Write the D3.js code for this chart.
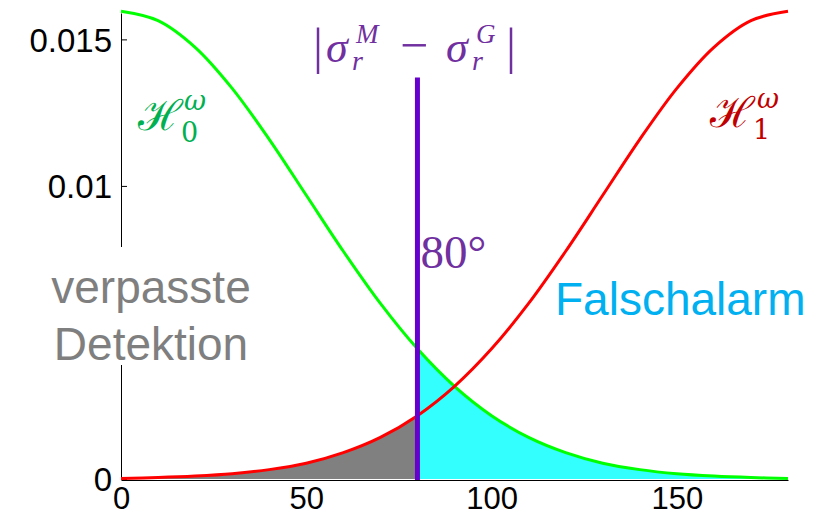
<!DOCTYPE html>
<html>
<head>
<meta charset="utf-8">
<script src="https://cdn.jsdelivr.net/npm/d3@7"></script>
<style>
  body { margin: 0; background: #fff; }
  svg { display: block; }
  .tick text { font-family: "Liberation Sans", Arial, sans-serif; fill: #000; }
</style>
</head>
<body>
<div id="chart"></div>
<script>
// angle samples (degrees)
let angles = [0, 10, 20, 30, 40, 50, 60, 70, 80, 90, 100, 110, 120, 130, 140, 150, 160, 170, 180];
// H0 density (green)
let h0Values = [0.01596, 0.01564, 0.01473, 0.01333, 0.01159, 0.00968, 0.00777, 0.00599, 0.00444, 0.00316,
                0.00216, 0.00142, 0.00090, 0.00054, 0.00032, 0.00018, 0.00010, 0.00005, 0.00002];
// H1 density (red)
let h1Values = [0.00002, 0.00005, 0.00010, 0.00018, 0.00032, 0.00054, 0.00090, 0.00142, 0.00216, 0.00316,
                0.00444, 0.00599, 0.00777, 0.00968, 0.01159, 0.01333, 0.01473, 0.01564, 0.01596];
let threshold = 80;
let thresholdTop = 0.0137;
let xTicks = [0, 50, 100, 150];
let yTicks = [0, 0.01, 0.015];
let yTickLabels = ["0", "0.01", "0.015"];

let width = 827, height = 516;

let svg = d3.select("#chart").append("svg")
    .attr("width", width)
    .attr("height", height);

// scales
let x = d3.scaleLinear().domain([0, 180]).range([121, 788]);
let y = d3.scaleLinear().domain([0, 0.0159]).range([479, 13]);

let h0 = angles.map((a, i) => ({a: a, v: h0Values[i]}));
let h1 = angles.map((a, i) => ({a: a, v: h1Values[i]}));

let curve = d3.curveCatmullRom.alpha(0.5);
let line = d3.line().x(d => x(d.a)).y(d => y(d.v)).curve(curve);
let area = d3.area().x(d => x(d.a)).y0(y(0)).y1(d => y(d.v)).curve(curve);

// clip regions left / right of the threshold
let defs = svg.append("defs");
defs.append("clipPath").attr("id", "clip-left")
    .append("rect")
    .attr("x", x(0)).attr("y", 0)
    .attr("width", x(threshold) - x(0)).attr("height", height);
defs.append("clipPath").attr("id", "clip-right")
    .append("rect")
    .attr("x", x(threshold)).attr("y", 0)
    .attr("width", x(180) - x(threshold)).attr("height", height);

// axes
let xAxis = d3.axisBottom(x).tickValues(xTicks).tickSize(0).tickPadding(7);
svg.append("g")
    .attr("class", "x-axis")
    .attr("transform", "translate(0," + (y(0) + 1) + ")")
    .call(xAxis)
    .call(g => g.selectAll("text").attr("font-size", 31))
    .call(g => g.select(".domain").attr("stroke", "#000"));

let yAxis = d3.axisLeft(y).tickValues(yTicks)
    .tickFormat((d, i) => yTickLabels[i])
    .tickSizeInner(-6).tickSizeOuter(0).tickPadding(9);
svg.append("g")
    .attr("class", "y-axis")
    .attr("transform", "translate(" + x(0) + ",0)")
    .call(yAxis)
    .call(g => g.selectAll("text").attr("font-size", 33).attr("dy", "0.36em"))
    .call(g => g.selectAll("line").attr("stroke", "#000"));

// filled regions
svg.append("path")
    .datum(h1)
    .attr("d", area)
    .attr("clip-path", "url(#clip-left)")
    .attr("fill", "#808080");
svg.append("path")
    .datum(h0)
    .attr("d", area)
    .attr("clip-path", "url(#clip-right)")
    .attr("fill", "#33ffff");

// curves
svg.append("path").datum(h0).attr("d", line)
    .attr("fill", "none").attr("stroke", "#00ff00").attr("stroke-width", 3);
svg.append("path").datum(h1).attr("d", line)
    .attr("fill", "none").attr("stroke", "#ff0000").attr("stroke-width", 3);

// threshold line
svg.append("line")
    .attr("x1", x(threshold)).attr("x2", x(threshold))
    .attr("y1", y(thresholdTop)).attr("y2", y(0) + 1)
    .attr("stroke", "#6600cc").attr("stroke-width", 5);

// labels
let sans = "'Liberation Sans', Arial, sans-serif";
let serif = "'Liberation Serif', 'Times New Roman', serif";

// white box over the y axis behind the gray label
svg.append("rect")
    .attr("x", 40).attr("y", 247).attr("width", 220).attr("height", 118)
    .attr("fill", "#fff");
let miss = svg.append("text")
    .attr("font-family", sans).attr("font-size", 46)
    .attr("fill", "#7f7f7f").attr("text-anchor", "middle");
miss.append("tspan").attr("x", 151).attr("y", 303).text("verpasste");
miss.append("tspan").attr("x", 151).attr("y", 360).text("Detektion");

svg.append("text")
    .attr("x", 555).attr("y", 315)
    .attr("font-family", sans).attr("font-size", 46)
    .attr("fill", "#00b0f0")
    .text("Falschalarm");

svg.append("text")
    .attr("x", x(threshold) + 3).attr("y", 268)
    .attr("font-family", serif).attr("font-size", 47)
    .attr("fill", "#7030a0")
    .text("80°");

// small helper for math-like labels
function mathText(px, py, txt, size, color, italic, family) {
    svg.append("text")
        .attr("x", px).attr("y", py)
        .attr("font-family", family || serif)
        .attr("font-size", size)
        .attr("font-style", italic ? "italic" : "normal")
        .attr("fill", color)
        .text(txt);
}

// |σ_r^M − σ_r^G|
let purple = "#7030a0";
mathText(313, 63, "|", 50, purple, false);
mathText(326, 62, "σ", 44, purple, true);
mathText(352, 70, "r", 28, purple, true);
mathText(356, 43, "M", 27, purple, true);
mathText(400, 62, "−", 50, purple, false);
mathText(446, 62, "σ", 44, purple, true);
mathText(472, 70, "r", 28, purple, true);
mathText(476, 43, "G", 27, purple, true);
mathText(506, 63, "|", 50, purple, false);

// H0 and H1 labels
mathText(138, 130, "ℋ", 42, "#00b050", false, "'DejaVu Serif', serif");
mathText(181, 142, "0", 27, "#00b050", false, "'DejaVu Serif', serif");
mathText(184, 110, "ω", 27, "#00b050", true, "'DejaVu Serif', serif");

mathText(710, 127, "ℋ", 42, "#c00000", false, "'DejaVu Serif', serif");
mathText(753, 139, "1", 27, "#c00000", false, "'DejaVu Serif', serif");
mathText(757, 108, "ω", 27, "#c00000", true, "'DejaVu Serif', serif");
</script>
</body>
</html>
